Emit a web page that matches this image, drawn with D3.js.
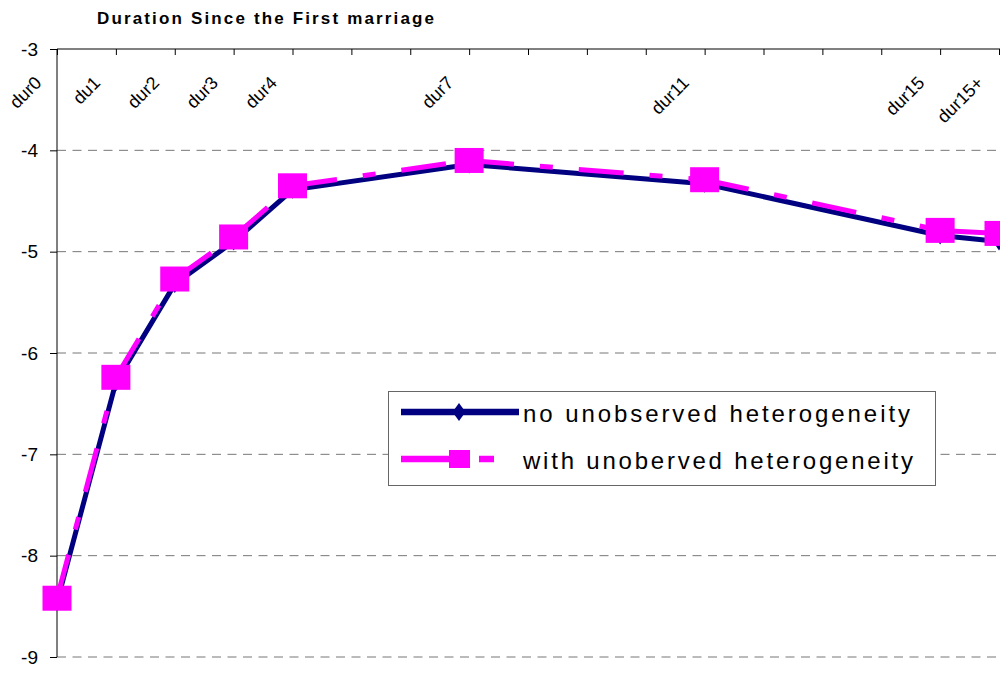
<!DOCTYPE html>
<html>
<head>
<meta charset="utf-8">
<script src="https://cdn.jsdelivr.net/npm/d3@7"></script>
<style>
  body { margin: 0; background: #fff; }
  svg { display: block; font-family: "Liberation Sans", Arial, sans-serif; }
</style>
</head>
<body>
<svg id="chart"></svg>
<script>
// Data
const categories = ["dur0", "du1", "dur2", "dur3", "dur4", "dur7", "dur11", "dur15", "dur15+"];
const durations = [0, 1, 2, 3, 4, 7, 11, 15, 16];
const noHetero = [-8.46, -6.29, -5.32, -4.90, -4.39, -4.14, -4.33, -4.84, -4.90];
const withHetero = [-8.42, -6.24, -5.27, -4.855, -4.35, -4.10, -4.29, -4.79, -4.82];
const yTicks = [-9, -8, -7, -6, -5, -4, -3];
const seriesNames = ["no unobserved heterogeneity", "with unoberved heterogeneity"];

const W = 1000, H = 674;
const navy = "#000080", pink = "#ff00ff";
const font = "'Liberation Sans', Arial, sans-serif";

const svg = d3.select("#chart").attr("width", W).attr("height", H);

// Scales
const x = d3.scaleLinear().domain([0, 16]).range([57, 999]);
const y = d3.scaleLinear().domain([-9, -3]).range([657, 49]);

// Title
svg.append("text")
    .attr("x", 97).attr("y", 24)
    .attr("textLength", 337).attr("lengthAdjust", "spacing")
    .style("font-size", "17px").style("font-weight", "bold")
    .text("Duration Since the First marriage");

// Gridlines
svg.append("g")
  .selectAll("line")
  .data(yTicks.filter(d => d !== -3))
  .enter().append("line")
    .attr("x1", x(0)).attr("x2", W)
    .attr("y1", d => y(d)).attr("y2", d => y(d))
    .attr("stroke", "#777").attr("stroke-width", 1)
    .attr("stroke-dasharray", "9,6.5");

// Y axis
const yAxis = svg.append("g")
    .attr("transform", "translate(" + x(0) + ",0)")
    .attr("font-family", font)
    .call(d3.axisLeft(y).tickValues(yTicks).tickSize(7).tickPadding(12));
yAxis.select(".domain").attr("stroke", "#000").attr("d", "M0," + y(-9) + "V" + y(-3));
yAxis.selectAll("text").style("font-size", "19px").attr("fill", "#000").text(d => "-" + Math.abs(d));

// X axis at top (crosses at -3)
const xAxis = svg.append("g")
    .attr("transform", "translate(0," + y(-3) + ")")
    .attr("font-family", font)
    .call(d3.axisBottom(x).tickValues(d3.range(0, 17)).tickSize(6)
      .tickFormat(d => { const i = durations.indexOf(d); return i < 0 ? "" : categories[i]; }));
xAxis.select(".domain").attr("stroke", "#000").attr("d", "M" + x(0) + ",0H" + W);
xAxis.selectAll(".tick text")
    .style("font-size", "18px").attr("fill", "#000")
    .attr("text-anchor", "end")
    .attr("y", 0).attr("dy", 0)
    .attr("transform", "translate(-15,35) rotate(-45)");

// Series 1: no unobserved heterogeneity
const pts1 = durations.map((d, i) => [x(d), y(noHetero[i])]);
const pts2 = durations.map((d, i) => [x(d), y(withHetero[i])]);

svg.append("path")
    .attr("d", d3.line()(pts1))
    .attr("fill", "none").attr("stroke", navy).attr("stroke-width", 5)
    .attr("stroke-linejoin", "round");

const diamond = (cx, cy, hw, hh) =>
  "M" + cx + "," + (cy - hh) + "L" + (cx + hw) + "," + cy + "L" + cx + "," + (cy + hh) + "L" + (cx - hw) + "," + cy + "Z";

svg.append("g").selectAll("path")
  .data(pts1)
  .enter().append("path")
    .attr("d", p => diamond(p[0], p[1], 6, 9))
    .attr("fill", navy);

// Series 2: with unobserved heterogeneity (dash restarts on each segment)
svg.append("g").selectAll("line")
  .data(d3.pairs(pts2))
  .enter().append("line")
    .attr("x1", d => d[0][0]).attr("y1", d => d[0][1])
    .attr("x2", d => d[1][0]).attr("y2", d => d[1][1])
    .attr("stroke", pink).attr("stroke-width", 5)
    .attr("stroke-dasharray", "45,26,13,26");

svg.append("g").selectAll("rect")
  .data(pts2)
  .enter().append("rect")
    .attr("x", p => p[0] - 14.5).attr("y", p => p[1] - 12.5)
    .attr("width", 29).attr("height", 25)
    .attr("fill", pink);

// Legend
const lg = svg.append("g");
lg.append("rect")
    .attr("x", 388.5).attr("y", 391.5).attr("width", 547).attr("height", 94)
    .attr("fill", "#fff").attr("stroke", "#666").attr("stroke-width", 1);

lg.append("line")
    .attr("x1", 401).attr("x2", 519).attr("y1", 412).attr("y2", 412)
    .attr("stroke", navy).attr("stroke-width", 6.5);
lg.append("path").attr("d", diamond(459, 412, 6.5, 9)).attr("fill", navy);

lg.append("line")
    .attr("x1", 401).attr("x2", 470).attr("y1", 459).attr("y2", 459)
    .attr("stroke", pink).attr("stroke-width", 6.5);
lg.append("line")
    .attr("x1", 479).attr("x2", 494).attr("y1", 459).attr("y2", 459)
    .attr("stroke", pink).attr("stroke-width", 6.5);
lg.append("rect")
    .attr("x", 449).attr("y", 450).attr("width", 21).attr("height", 18)
    .attr("fill", pink);

lg.selectAll("text.lbl")
  .data(seriesNames)
  .enter().append("text")
    .attr("class", "lbl")
    .attr("x", 523)
    .attr("y", (d, i) => i === 0 ? 422 : 469)
    .attr("textLength", (d, i) => i === 0 ? 387 : 390)
    .attr("lengthAdjust", "spacing")
    .style("font-size", "24px")
    .text(d => d);
</script>
</body>
</html>
